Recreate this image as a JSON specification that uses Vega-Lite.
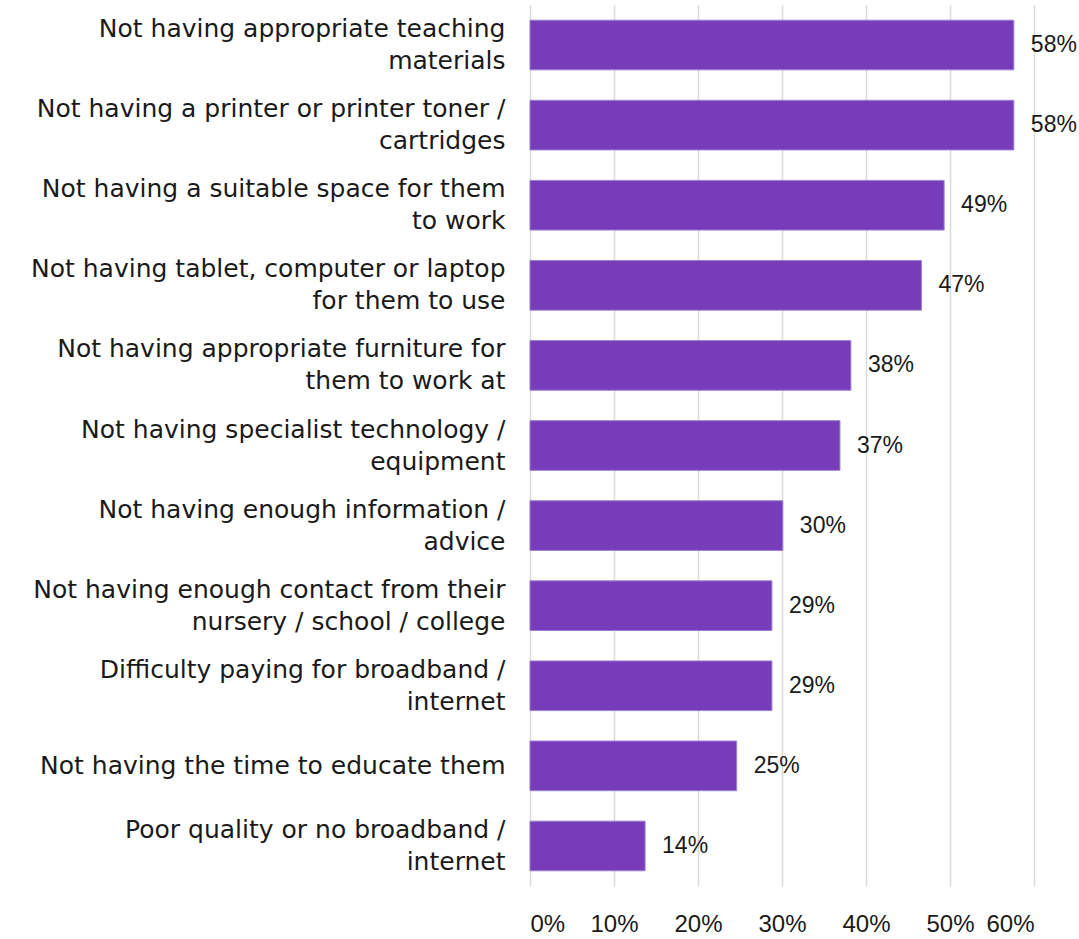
{
  "$schema": "https://vega.github.io/schema/vega-lite/v6.json",
  "width": 504,
  "height": 881,
  "autosize": {"type": "none"},
  "padding": {"left": 530, "top": 5, "right": 45, "bottom": 53},
  "background": "white",
  "config": {
    "view": {"stroke": null},
    "font": "DejaVu Sans",
    "axis": {"labelFont": "DejaVu Sans", "labelColor": "#1a1a1a"}
  },
  "data": {
    "values": [
      {"item": "Not having appropriate teaching|materials", "value": 0.576},
      {"item": "Not having a printer or printer toner /|cartridges", "value": 0.576},
      {"item": "Not having a suitable space for them|to work", "value": 0.493},
      {"item": "Not having tablet, computer or laptop|for them to use", "value": 0.466},
      {"item": "Not having appropriate furniture for|them to work at", "value": 0.382},
      {"item": "Not having specialist technology /|equipment", "value": 0.369},
      {"item": "Not having enough information /|advice", "value": 0.301},
      {"item": "Not having enough contact from their|nursery / school / college", "value": 0.288},
      {"item": "Difficulty paying for broadband /|internet", "value": 0.288},
      {"item": "Not having the time to educate them", "value": 0.246},
      {"item": "Poor quality or no broadband /|internet", "value": 0.137}
    ]
  },
  "encoding": {
    "y": {
      "field": "item",
      "type": "nominal",
      "sort": null,
      "title": null,
      "scale": {"paddingInner": 0.38, "paddingOuter": 0.19},
      "axis": {
        "ticks": false,
        "domain": false,
        "labelPadding": 25,
        "labelFontSize": 25,
        "labelLineHeight": 32,
        "labelLimit": 600,
        "labelBaseline": "middle",
        "labelOffset": {"condition": {"test": "indexof(datum.value, '|') >= 0", "value": -16}, "value": 0},
        "labelExpr": "split(datum.value, '|')"
      }
    },
    "x": {
      "field": "value",
      "type": "quantitative",
      "title": null,
      "scale": {"domain": [0, 0.6], "nice": false},
      "axis": {
        "values": [0, 0.1, 0.2, 0.3, 0.4, 0.5, 0.6],
        "format": ".0%",
        "domain": false,
        "ticks": false,
        "grid": true,
        "gridColor": "#d9d9d9",
        "gridWidth": 1.5,
        "labelPadding": 26,
        "labelFont": "Liberation Sans",
        "labelFontSize": 24
      }
    }
  },
  "layer": [
    {"mark": {"type": "bar", "color": "#763CB9", "stroke": "#9E7FD4", "strokeWidth": 1}},
    {
      "mark": {"type": "text", "align": "left", "baseline": "middle", "dx": 17, "font": "Liberation Sans", "fontSize": 23, "color": "#1a1a1a"},
      "encoding": {"text": {"field": "value", "type": "quantitative", "format": ".0%"}}
    }
  ]
}
